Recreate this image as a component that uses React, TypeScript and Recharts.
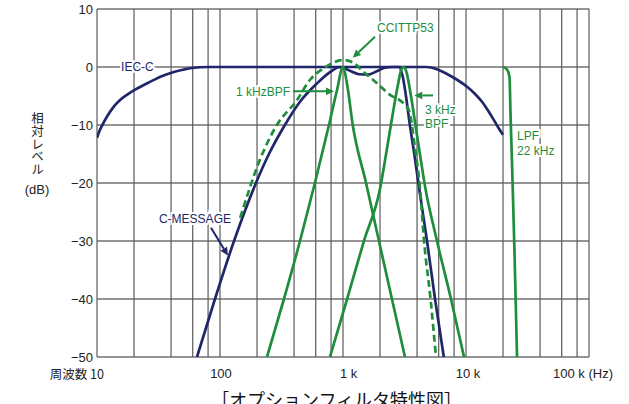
import React from 'react';
import {
  LineChart,
  Line,
  XAxis,
  YAxis,
  CartesianGrid,
  ReferenceDot,
  ReferenceLine,
} from 'recharts';

const NAVY = '#21266a';
const GREEN = '#1e8d3c';
const FONT = '"Liberation Sans", Arial, "Noto Sans CJK JP", sans-serif';
const JP_FONT = '"Noto Sans CJK JP", "Liberation Sans", sans-serif';

// Filter responses: [frequency Hz, relative level dB]
const IEC_C: [number, number][] = [
  [10, -12.2], [10.4, -11.2], [11, -10.1], [12.1, -8.5], [13.5, -7.0], [15.4, -5.7],
  [17.5, -4.8], [20.4, -3.9], [24.1, -3.1], [28.5, -2.3], [34.4, -1.5], [41.5, -0.9],
  [50, -0.47], [59, -0.17], [80, 0], [4800, 0], [5800, -0.4], [7000, -1.2],
  [8460, -2.2], [10200, -3.4], [11800, -4.6], [13500, -6.0], [15100, -7.5],
  [16900, -9.2], [18500, -10.6], [20000, -11.7],
];

const C_MESSAGE: [number, number][] = [
  [65, -50], [91, -40], [130, -30], [196, -20], [250, -15], [337, -10], [447, -6],
  [603, -3], [769, -1], [950, 0], [1150, -0.7], [1350, -1.25], [1600, -1.3],
  [1900, -0.7], [2200, -0.1], [2500, 0], [2850, 0], [3050, -1.5], [3250, -5],
  [3470, -9.5], [3800, -15], [4200, -21.5], [4820, -30], [5600, -40], [6600, -50],
];

const CCITT_P53: [number, number][] = [
  [146, -26], [211, -16], [290, -10], [423, -5.7], [540, -2.2], [700, -0.2],
  [1000, 1.2], [1200, 0.8], [1460, -0.8], [1890, -2.8], [2410, -4.8], [3080, -6.2],
  [3450, -7.6], [3850, -14], [4230, -21], [4560, -30], [5150, -40], [5700, -50],
];

const BPF_1K: [number, number][] = [
  [241, -50], [331, -40], [447, -30], [591, -20], [769, -10], [893, -4], [1000, 0],
  [1080, -3], [1200, -10], [1540, -20], [1960, -30], [2500, -40], [3190, -50],
];

const BPF_3K: [number, number][] = [
  [783, -50], [1080, -40], [1480, -30], [2000, -21], [2240, -15], [2450, -10],
  [2800, -3], [2960, -0.6], [3100, 0], [3250, -0.6], [3570, -5], [3880, -10],
  [4220, -15], [4640, -20.5], [5810, -30], [7550, -40], [9640, -50],
];

const LPF_22K: [number, number][] = [
  [20000, 0], [21500, -0.4], [22600, -1.8], [23000, -8], [23700, -17], [24800, -32],
  [26000, -50],
];

const FREQ_GRID = [
  10, 20, 40, 60, 80, 100, 200, 400, 600, 800, 1000, 2000, 4000, 6000, 8000,
  10000, 20000, 40000, 60000, 80000, 100000,
];
const LEVEL_TICKS = [-50, -40, -30, -20, -10, 0, 10];

const toPoints = (rows: [number, number][]) => rows.map(([f, db]) => ({ f, db }));

// x-axis labels: only decades get text, other grid frequencies stay blank
function FreqTick({ x, y, payload }: any) {
  const v = payload.value;
  const base = { y: y + 16, fontSize: 13, fill: '#222', dominantBaseline: 'central' as const };
  if (v === 10) {
    return (
      <text {...base} fontSize={12.5} x={x + 7} textAnchor="end" fontFamily={JP_FONT}>
        周波数 10
      </text>
    );
  }
  if (v === 100) return <text {...base} x={x + 1} textAnchor="middle" fontFamily={FONT}>100</text>;
  if (v === 1000) return <text {...base} x={x - 3} textAnchor="start" fontFamily={FONT}>1 k</text>;
  if (v === 10000) return <text {...base} x={x + 2} textAnchor="middle" fontFamily={FONT}>10 k</text>;
  if (v === 100000) {
    return <text {...base} x={x - 36} textAnchor="start" fontFamily={FONT}>100 k (Hz)</text>;
  }
  return <g />;
}

function LevelTick({ x, y, payload }: any) {
  const v = payload.value;
  const label = v < 0 ? `\u2212${Math.abs(v)}` : String(v);
  return (
    <text x={x} y={y} textAnchor="end" dominantBaseline="central" fontSize={13} fill="#222" fontFamily={FONT}>
      {label}
    </text>
  );
}

// leader line with a filled arrowhead at the second point
const arrow = (color: string) => (props: any) => {
  const { x1, y1, x2, y2 } = props;
  const a = Math.atan2(y2 - y1, x2 - x1);
  const len = 8;
  const half = 3.8;
  const bx = x2 - len * Math.cos(a);
  const by = y2 - len * Math.sin(a);
  const pts = [
    `${x2},${y2}`,
    `${bx + half * Math.sin(a)},${by - half * Math.cos(a)}`,
    `${bx - half * Math.sin(a)},${by + half * Math.cos(a)}`,
  ].join(' ');
  return (
    <g>
      <line x1={x1} y1={y1} x2={bx} y2={by} stroke={color} strokeWidth={2} />
      <polygon points={pts} fill={color} />
    </g>
  );
};

const tag = (text: string, color: string, anchor: 'start' | 'middle' | 'end' = 'start') => (props: any) => (
  <text
    x={props.cx}
    y={props.cy}
    fill={color}
    fontSize={12}
    fontFamily={FONT}
    textAnchor={anchor}
    dominantBaseline="central"
    stroke="#fff"
    strokeWidth={4}
    paintOrder="stroke"
  >
    {text}
  </text>
);

const lineProps = {
  dataKey: 'db',
  type: 'monotone' as const,
  dot: false,
  activeDot: false,
  strokeWidth: 2.7,
  isAnimationActive: false,
};

export default function App() {
  return (
    <div
      style={{
        position: 'absolute',
        left: 0,
        top: 0,
        width: 629,
        height: 404,
        background: '#fff',
        overflow: 'hidden',
        fontFamily: FONT,
      }}
    >
      <LineChart width={629} height={404} margin={{ top: 9, right: 40, bottom: 0, left: 0 }}>
        <CartesianGrid vertical={false} stroke="#2a2a2a" strokeWidth={1.2} />
        <CartesianGrid horizontal={false} stroke="#5a5a5a" strokeWidth={1.2} />
        <XAxis
          dataKey="f"
          type="number"
          scale="log"
          domain={[10, 100000]}
          ticks={FREQ_GRID}
          interval={0}
          allowDataOverflow
          axisLine={false}
          tickLine={false}
          tickSize={0}
          tickMargin={0}
          height={47}
          tick={<FreqTick />}
        />
        <YAxis
          type="number"
          domain={[-50, 10]}
          ticks={LEVEL_TICKS}
          interval={0}
          allowDataOverflow
          axisLine={false}
          tickLine={false}
          tickSize={0}
          tickMargin={4}
          width={97}
          tick={<LevelTick />}
        />

        <Line {...lineProps} data={toPoints(IEC_C)} stroke={NAVY} name="IEC-C" />
        <Line {...lineProps} data={toPoints(C_MESSAGE)} stroke={NAVY} name="C-MESSAGE" />
        <Line
          {...lineProps}
          data={toPoints(CCITT_P53)}
          stroke={GREEN}
          strokeDasharray="7 4"
          name="CCITTP53"
        />
        <Line {...lineProps} data={toPoints(BPF_1K)} stroke={GREEN} name="1 kHzBPF" />
        <Line {...lineProps} data={toPoints(BPF_3K)} stroke={GREEN} name="3 kHz BPF" />
        <Line {...lineProps} data={toPoints(LPF_22K)} stroke={GREEN} name="LPF 22 kHz" />

        {/* leader arrows */}
        <ReferenceLine segment={[{ x: 1820, y: 5.2 }, { x: 1200, y: 1.6 }]} shape={arrow(GREEN)} />
        <ReferenceLine segment={[{ x: 392, y: -4.2 }, { x: 845, y: -4.2 }]} shape={arrow(GREEN)} />
        <ReferenceLine segment={[{ x: 5390, y: -4.9 }, { x: 3800, y: -4.9 }]} shape={arrow(GREEN)} />
        <ReferenceLine segment={[{ x: 84.5, y: -27.7 }, { x: 116, y: -32.5 }]} shape={arrow(NAVY)} />

        {/* series names */}
        <ReferenceDot x={21.3} y={0} r={0} shape={tag('IEC-C', NAVY, 'middle')} />
        <ReferenceDot x={1890} y={6.8} r={0} shape={tag('CCITTP53', GREEN)} />
        <ReferenceDot x={135} y={-4.26} r={0} shape={tag('1 kHzBPF', GREEN)} />
        <ReferenceDot x={4640} y={-7.36} r={0} shape={tag('3 kHz', GREEN)} />
        <ReferenceDot x={4640} y={-9.8} r={0} shape={tag('BPF', GREEN)} />
        <ReferenceDot x={26000} y={-11.85} r={0} shape={tag('LPF', GREEN)} />
        <ReferenceDot x={26000} y={-14.4} r={0} shape={tag('22 kHz', GREEN)} />
        <ReferenceDot x={31.9} y={-26.2} r={0} shape={tag('C-MESSAGE', NAVY)} />
      </LineChart>

      {/* vertical axis title, set top-to-bottom */}
      <div
        style={{
          position: 'absolute',
          left: 30,
          top: 112,
          fontFamily: JP_FONT,
          fontSize: 12.5,
          lineHeight: '14px',
          letterSpacing: 0.3,
          color: '#222',
          writingMode: 'vertical-rl',
          textOrientation: 'upright',
        }}
      >
        相対レベル
      </div>
      <div
        style={{
          position: 'absolute',
          left: 17,
          top: 182,
          width: 40,
          fontFamily: FONT,
          fontSize: 13,
          lineHeight: '16px',
          color: '#222',
          textAlign: 'center',
        }}
      >
        (dB)
      </div>

      <div
        style={{
          position: 'absolute',
          left: 211,
          top: 389,
          fontFamily: JP_FONT,
          fontSize: 18,
          lineHeight: '20px',
          color: '#111',
          whiteSpace: 'nowrap',
        }}
      >
        ［オプションフィルタ特性図］
      </div>
    </div>
  );
}
